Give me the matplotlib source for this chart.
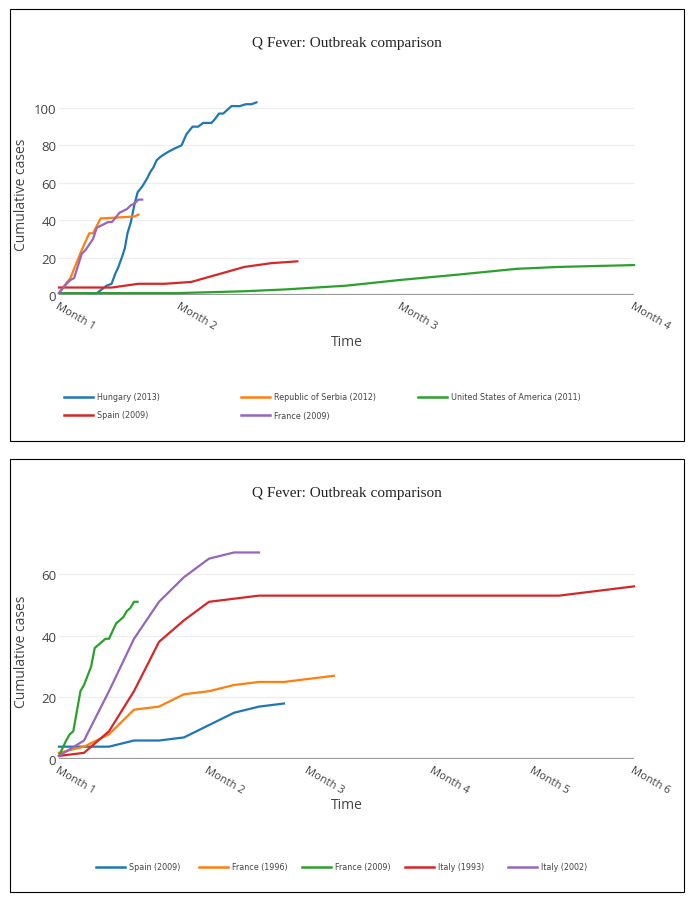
"""Q Fever outbreak comparison – two stacked panels"""
import matplotlib
matplotlib.use('Agg')
import matplotlib.pyplot as plt
from matplotlib.lines import Line2D
from matplotlib.patches import Rectangle

plt.rcParams['font.family'] = ['Open Sans', 'DejaVu Sans']

C_BLUE, C_ORANGE, C_GREEN, C_RED, C_PURPLE = '#1f77b4', '#ff7f0e', '#2ca02c', '#d62728', '#9467bd'

# ─── data (days since start, cumulative cases) ─────────
hungary_days = [7.3, 10.0, 11.3, 12.6, 13.9, 14.8, 15.7, 16.6, 17.4, 18.1, 19.0, 19.9,
                20.8, 22.0, 23.2, 24.2, 24.9, 25.8, 26.9, 28.4, 30.2, 32.4, 33.7, 35.3,
                36.8, 38.1, 40.3, 41.2, 42.3, 43.4, 45.6, 47.8, 49.4, 50.9, 52.2]
hungary_cases = [1, 1, 3, 5, 6, 11, 15, 20, 25, 33, 39, 48,
                 55, 58, 62, 66, 68, 72, 74, 76, 78, 80, 86, 90,
                 90, 92, 92, 94, 97, 97, 101, 101, 102, 102, 103]

serbia_days = [0, 1, 3, 5, 6, 8, 9, 11, 12, 20, 21]
serbia_cases = [1, 4, 9, 19, 24, 33, 33, 41, 41, 42, 43]

usa_days = [0, 31, 49, 60, 76, 90, 106, 121, 132, 152]
usa_cases = [1, 1, 2, 3, 5, 8, 11, 14, 15, 16]

spain_days = [0, 14, 21, 28, 35, 42, 49, 56, 63]
spain_cases = [4, 4, 6, 6, 7, 11, 15, 17, 18]

france09_days = [0, 2, 3, 4, 6, 7, 9, 10, 12, 13, 14, 16, 18, 19, 20, 21, 22]
france09_cases = [1, 6, 8, 9, 22, 24, 30, 36, 38, 39, 39, 44, 46, 48, 49, 51, 51]

france96_days = [0, 7, 14, 21, 28, 35, 42, 49, 56, 63, 70, 77]
france96_cases = [2, 4, 8, 16, 17, 21, 22, 24, 25, 25, 26, 27]

italy93_days = [0, 7, 14, 21, 28, 35, 42, 49, 56, 140, 161]
italy93_cases = [1, 2, 9, 22, 38, 45, 51, 52, 53, 53, 56]

italy02_days = [0, 7, 14, 21, 28, 35, 42, 49, 56]
italy02_cases = [1, 6, 22, 39, 51, 59, 65, 67, 67]

top_ticks = [0, 32, 90.3, 152]
top_labels = ['Month 1', 'Month 2', 'Month 3', 'Month 4']
bot_ticks = [0, 41.7, 69.7, 104.7, 132.7, 161]
bot_labels = ['Month 1', 'Month 2', 'Month 3', 'Month 4', 'Month 5', 'Month 6']

top_series = [
    (hungary_days, hungary_cases, C_BLUE, 'Hungary (2013)'),
    (serbia_days, serbia_cases, C_ORANGE, 'Republic of Serbia (2012)'),
    (usa_days, usa_cases, C_GREEN, 'United States of America (2011)'),
    (spain_days, spain_cases, C_RED, 'Spain (2009)'),
    (france09_days, france09_cases, C_PURPLE, 'France (2009)'),
]
bot_series = [
    (spain_days, spain_cases, C_BLUE, 'Spain (2009)'),
    (france96_days, france96_cases, C_ORANGE, 'France (1996)'),
    (france09_days, france09_cases, C_GREEN, 'France (2009)'),
    (italy93_days, italy93_cases, C_RED, 'Italy (1993)'),
    (italy02_days, italy02_cases, C_PURPLE, 'Italy (2002)'),
]

W, H = 695, 903
fig = plt.figure(figsize=(W / 100, H / 100), dpi=100)


def fx(px): return px / W
def fy(py): return 1 - py / H


def draw_panel(top_px, bottom_px, series, ymax, yticks, ticks, labels, xmax,
               title_y, xlabel_y, legend_slots, frame):
    ax = fig.add_axes([fx(59), fy(bottom_px), fx(634) - fx(59), fy(top_px) - fy(bottom_px)])
    for v in yticks[1:]:
        ax.axhline(v, color='#eeeeee', lw=0.9, zorder=1)
    ax.axhline(0, color='#999999', lw=1.6, zorder=2)
    for days, cases, color, _ in series:
        ax.plot(days, cases, color=color, lw=1.6, zorder=3, clip_on=False,
                solid_joinstyle='round')
    ax.set_xlim(0, xmax)
    ax.set_ylim(0, ymax)
    ax.set_yticks(yticks)
    ax.set_xticks(ticks)
    ax.set_xticklabels(labels, rotation=-30, ha='left', va='top',
                       rotation_mode='anchor', fontsize=8, color='#444444')
    ax.tick_params(axis='y', length=0, labelsize=9.5, labelcolor='#444444', pad=2)
    ax.tick_params(axis='x', length=0, pad=4)
    for s in ax.spines.values():
        s.set_visible(False)

    fig.text(fx(347), fy(title_y), 'Q Fever: Outbreak comparison', ha='center', va='center',
             fontsize=11, family='Liberation Serif', color='#222222')
    fig.text(fx(21.5), (fy(top_px) + fy(bottom_px)) / 2, 'Cumulative cases', rotation=90,
             ha='center', va='center', fontsize=10, color='#444444')
    fig.text(fx(346.5), fy(xlabel_y), 'Time', ha='center', va='center',
             fontsize=10, color='#444444')

    # legend
    for (_, _, color, label), (lx, ly) in zip(series, legend_slots):
        fig.add_artist(Line2D([fx(lx), fx(lx + 29)], [fy(ly), fy(ly)], color=color, lw=1.8,
                              transform=fig.transFigure))
        fig.text(fx(lx + 33), fy(ly), label, ha='left', va='center', fontsize=5.8,
                 family='DejaVu Sans', color='#444444')

    x0, y0, x1, y1 = frame
    fig.add_artist(Rectangle((fx(x0), fy(y1)), fx(x1) - fx(x0), fy(y0) - fy(y1),
                             transform=fig.transFigure, fill=False, ec='black', lw=0.8))
    return ax


draw_panel(94, 296, top_series, 108, [0, 20, 40, 60, 80, 100], top_ticks, top_labels, 152,
           title_y=44, xlabel_y=342,
           legend_slots=[(64, 398), (241, 398), (418, 398), (64, 416), (241, 416)],
           frame=(10, 10, 684, 442))

draw_panel(543, 760, bot_series, 70.4, [0, 20, 40, 60], bot_ticks, bot_labels, 161,
           title_y=494, xlabel_y=806,
           legend_slots=[(96, 868), (199, 868), (302, 868), (405, 868), (508, 868)],
           frame=(10, 460, 684, 893))

fig.savefig('out.png', dpi=100)
